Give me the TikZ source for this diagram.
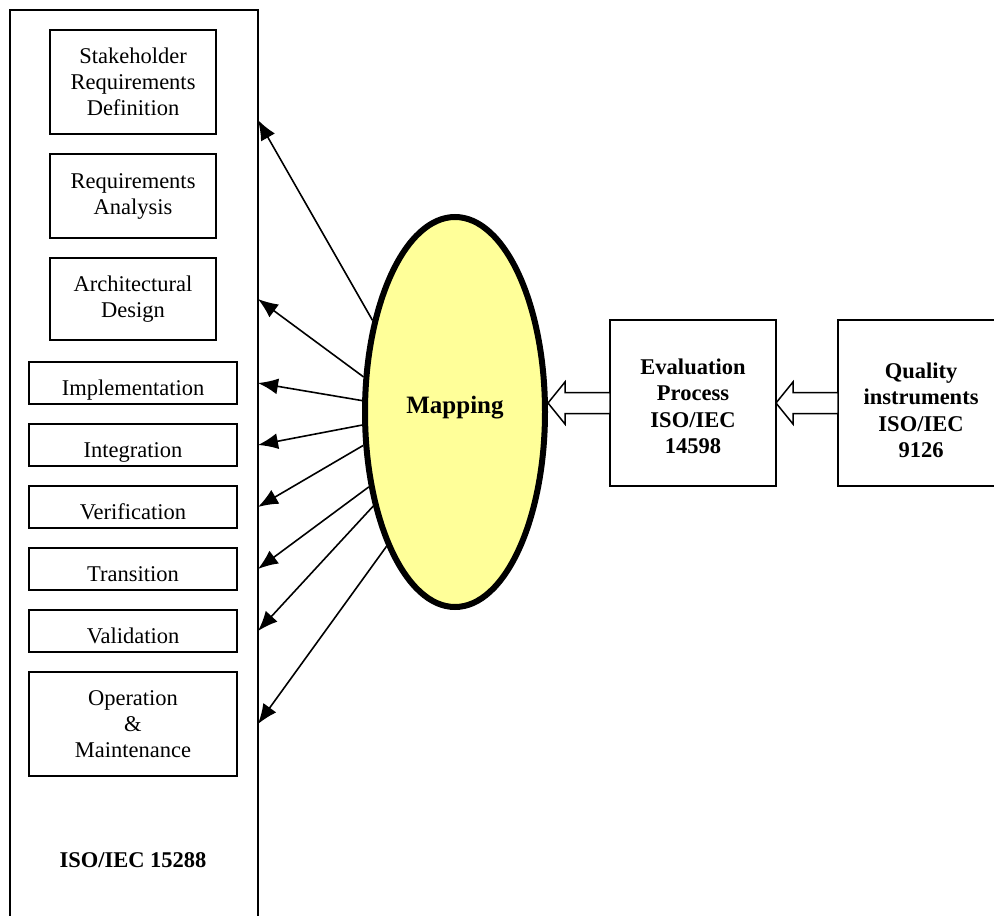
\documentclass[tikz,border=0pt]{standalone}
\usepackage{fontspec}
\setmainfont{Liberation Serif}
\usepackage{xcolor}
\usetikzlibrary{
    positioning,
    calc,
    arrows.meta,
    shapes.geometric
}
\definecolor{mapyellow}{RGB}{255,255,153}
\tikzset{
    stage/.style={
        rectangle, draw, line width=1.6pt,
        inner sep=0pt, outer sep=0pt, align=center,
        font=\fontsize{22.5}{26}\selectfont
    },
    narrowstage/.style={
        stage, minimum width=166pt
    },
    widestage/.style={
        stage, minimum width=208pt, minimum height=42pt,
        text height=26pt, text depth=2pt
    },
    stdbox/.style={
        rectangle, draw, line width=1.6pt,
        minimum width=166pt, minimum height=166pt,
        inner sep=0pt, outer sep=0pt, align=center,
        font=\fontsize{22.5}{26.5}\selectfont\bfseries
    },
    maparrow/.style={
        -{Latex[length=20pt,width=16pt]}, line width=1.6pt
    },
    fatarrow/.style={
        draw, line width=1.5pt, fill=white, line join=miter
    }
}
% hollow block arrow from the west side of a box to a tip coordinate
\newcommand{\fatlink}[2]{%
    \draw[fatarrow] ($(#1.west)+(0,-10.5)$) -- ($(#2)+(17,-10.5)$)
        -- ($(#2)+(17,-21)$) -- (#2) -- ($(#2)+(17,21)$)
        -- ($(#2)+(17,10.5)$) -- ($(#1.west)+(0,10.5)$) -- cycle;}

\begin{document}
\begin{tikzpicture}[x=1pt, y=-1pt]
    \useasboundingbox (0,0) rectangle (994,916);
    \fill[white] (0,0) rectangle (994,916);

    % ISO/IEC 15288 life cycle
    \node[rectangle, draw, line width=1.6pt, inner sep=0pt, outer sep=0pt,
        minimum width=248pt, minimum height=930pt] (frame) at (134,475) {};
    \node[font=\fontsize{22.5}{26}\selectfont\bfseries] (isolabel) at (133,860) {ISO/IEC 15288};

    \node[narrowstage, minimum height=104pt] (stake) at (133,82)
        {Stakeholder\\Requirements\\Definition};
    \node[narrowstage, minimum height=84pt, below=20pt of stake] (reqan)
        {Requirements\\Analysis};
    \node[narrowstage, minimum height=82pt, below=20pt of reqan] (arch)
        {Architectural\\Design};
    \node[widestage, below=22pt of arch] (impl) {Implementation};
    \node[widestage, below=20pt of impl] (integ) {Integration};
    \node[widestage, below=20pt of integ] (verif) {Verification};
    \node[widestage, below=20pt of verif] (trans) {Transition};
    \node[widestage, below=20pt of trans] (valid) {Validation};
    \node[stage, minimum width=208pt, minimum height=104pt, below=20pt of valid] (opmaint)
        {Operation\\\&\\Maintenance};

    % mapping
    \node[ellipse, draw, line width=6pt, fill=mapyellow,
        minimum width=180pt, minimum height=390pt, inner sep=0pt,
        text height=12pt, text depth=10pt,
        font=\fontsize{25}{30}\selectfont\bfseries] (map) at (455,412) {Mapping};

    \draw[maparrow] (map.132.6) -- ($(stake.south -| frame.east)+(0,-14)$);
    \draw[maparrow] (map.159.6) -- (arch -| frame.east);
    \draw[maparrow] (map.173.9) -- (impl -| frame.east);
    \draw[maparrow] (map.188) -- (integ -| frame.east);
    \draw[maparrow] (map.200.9) -- (verif -| frame.east);
    \draw[maparrow] (map.221.1) -- (trans -| frame.east);
    \draw[maparrow] (map.229.3) -- (valid -| frame.east);
    \draw[maparrow] (map.243.6) -- (opmaint -| frame.east);

    % standards
    \node[stdbox, text height=101pt, text depth=0pt] (eval) at (693,403)
        {Evaluation\\Process\\ISO/IEC\\14598};
    \node[stdbox, text height=109pt, text depth=0pt] (quality) at (921,403)
        {Quality\\instruments\\ISO/IEC\\9126};

    \coordinate (maptip) at (map.east |- eval.west);
    \coordinate (evaltip) at (eval.east);
    \fatlink{eval}{maptip}
    \fatlink{quality}{evaltip}
\end{tikzpicture}
\end{document}
